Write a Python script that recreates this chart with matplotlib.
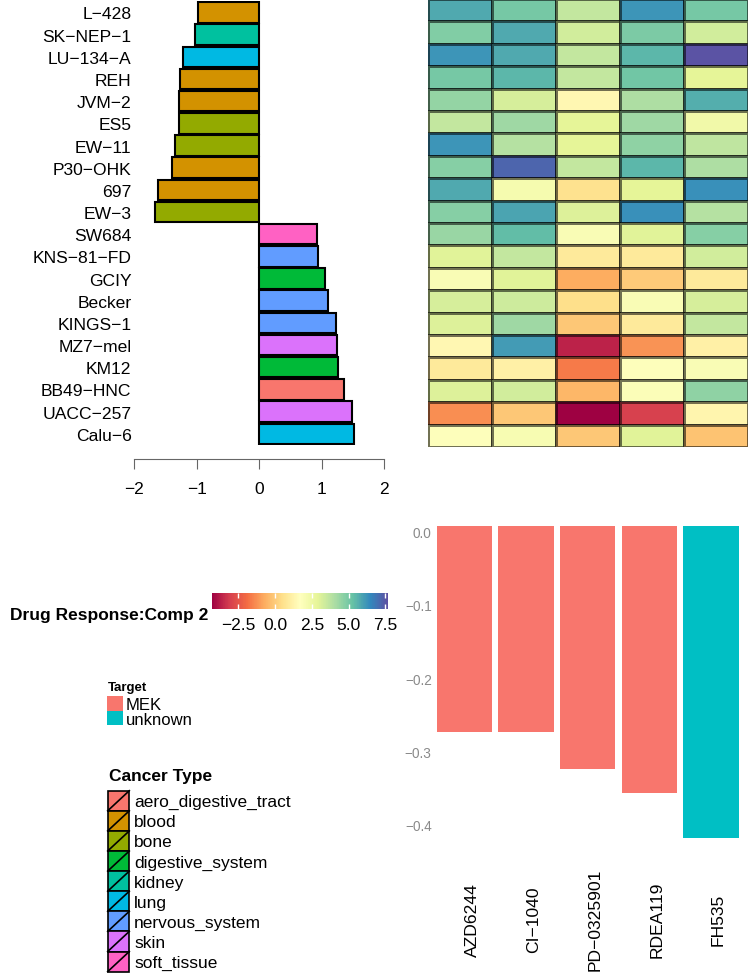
import numpy as np
import matplotlib as mpl
import matplotlib.pyplot as plt
from matplotlib.colors import Normalize
from matplotlib.patches import Rectangle
from matplotlib.lines import Line2D

plt.rcParams['font.family'] = ['Liberation Sans', 'DejaVu Sans']

# cell lines, top to bottom
cell_lines = ['L-428', 'SK-NEP-1', 'LU-134-A', 'REH', 'JVM-2', 'ES5', 'EW-11', 'P30-OHK', '697', 'EW-3',
              'SW684', 'KNS-81-FD', 'GCIY', 'Becker', 'KINGS-1', 'MZ7-mel', 'KM12', 'BB49-HNC', 'UACC-257', 'Calu-6']
cell_scores = [-0.98, -1.02, -1.22, -1.26, -1.28, -1.29, -1.35, -1.39, -1.62, -1.67,
               0.93, 0.95, 1.06, 1.11, 1.23, 1.24, 1.27, 1.36, 1.49, 1.52]
cell_types = ['blood', 'kidney', 'lung', 'blood', 'blood', 'bone', 'bone', 'blood', 'blood', 'bone',
              'soft_tissue', 'nervous_system', 'digestive_system', 'nervous_system', 'nervous_system',
              'skin', 'digestive_system', 'aero_digestive_tract', 'skin', 'lung']

cancer_types = ['aero_digestive_tract', 'blood', 'bone', 'digestive_system', 'kidney',
                'lung', 'nervous_system', 'skin', 'soft_tissue']
cancer_colors = ['#F8766D', '#D39200', '#93AA00', '#00BA38', '#00C19F',
                 '#00B9E3', '#619CFF', '#DB72FB', '#FF61C3']

# drug response heatmap, one row per cell line, one column per drug
response = [
    [5.8, 5.0, 3.6, 6.2, 5.0],
    [4.8, 5.8, 3.3, 4.9, 3.3],
    [6.2, 5.8, 3.6, 5.5, 7.6],
    [5.0, 5.5, 3.6, 5.1, 2.9],
    [4.5, 3.2, 1.4, 4.0, 5.7],
    [3.6, 4.3, 2.9, 4.3, 2.4],
    [6.2, 3.9, 2.9, 4.6, 3.7],
    [4.7, 7.2, 3.6, 5.5, 4.0],
    [5.8, 2.2, 0.6, 2.9, 6.3],
    [4.7, 5.9, 3.1, 6.3, 3.9],
    [4.4, 5.4, 2.0, 3.0, 4.7],
    [3.0, 3.6, 0.9, 0.9, 3.3],
    [2.0, 3.0, -0.7, 0.0, 0.9],
    [3.2, 3.4, 0.5, 2.0, 3.2],
    [3.1, 4.3, -0.1, 0.9, 3.6],
    [1.4, 6.1, -3.6, -1.2, 1.1],
    [0.9, 1.1, -1.65, 1.8, 2.0],
    [3.1, 3.3, -0.5, 1.9, 4.6],
    [-1.3, -0.1, -4.3, -3.0, 1.3],
    [1.8, 2.1, -0.1, 3.0, -0.2],
]
resp_min, resp_max = -4.3, 7.7
cbar_ticks = [-2.5, 0.0, 2.5, 5.0, 7.5]
cbar_labels = ['-2.5', '0.0', '2.5', '5.0', '7.5']

drugs = ['AZD6244', 'CI-1040', 'PD-0325901', 'RDEA119', 'FH535']
drug_loadings = [-0.281, -0.281, -0.332, -0.364, -0.426]
drug_targets = ['MEK', 'MEK', 'MEK', 'MEK', 'unknown']
targets = ['MEK', 'unknown']
target_colors = ['#F8766D', '#00BFC4']
load_ticks = [0.0, -0.1, -0.2, -0.3, -0.4]
load_labels = ['0.0', '-0.1', '-0.2', '-0.3', '-0.4']


def minus(labels):
    # the original device draws '-' as a proper minus sign
    return [s.replace('-', '\u2212') for s in labels]


W, H = 748, 979
fig = plt.figure(figsize=(W / 100, H / 100), dpi=100)


def box(l, t, r, b):
    return [l / W, 1 - b / H, (r - l) / W, (b - t) / H]


def fx(x):
    return x / W


def fy(y):
    return 1 - y / H


# ---- cell line bars
ax1 = fig.add_axes(box(134.3, 2.4, 384, 445.8))
pos = np.arange(len(cell_lines))
bar_cols = [cancer_colors[cancer_types.index(t)] for t in cell_types]
ax1.barh(pos, cell_scores, height=0.92, color=bar_cols, edgecolor='black', linewidth=1.5)
ax1.set_xlim(-2, 2)
ax1.set_ylim(len(cell_lines) - 0.5, -0.5)
for s in ['top', 'right', 'left']:
    ax1.spines[s].set_visible(False)
ax1.spines['bottom'].set_position(('outward', 10))
ax1.spines['bottom'].set_bounds(-2, 2)
ax1.spines['bottom'].set_color('#666666')
ax1.set_xticks([-2, -1, 0, 1, 2])
ax1.tick_params(axis='x', length=7.2, color='#666666', labelsize=12.5, pad=9)
ax1.set_yticks(pos, minus(cell_lines))
ax1.tick_params(axis='y', length=0, pad=2, labelsize=12.6)
ax1.patch.set_alpha(0)

# ---- heatmap
norm = Normalize(resp_min, resp_max)
ax2 = fig.add_axes(box(427.5, 0, 748, 448))
ax2.pcolormesh(np.array(response), cmap='Spectral', norm=norm,
               edgecolors=(0, 0, 0, 0.55), linewidth=0.8)
ax2.set_xlim(0, 5)
ax2.set_ylim(len(cell_lines), 0)
ax2.axis('off')

# ---- colourbar
cax = fig.add_axes(box(211.7, 594.3, 388.3, 610))
cb = fig.colorbar(mpl.cm.ScalarMappable(norm=norm, cmap='Spectral'), cax=cax, orientation='horizontal')
cb.set_ticks(cbar_ticks, labels=minus(cbar_labels))
cb.outline.set_visible(False)
cax.tick_params(direction='in', color='white', labelcolor='black', length=3.5, width=1,
                top=True, labelsize=12.5, pad=6)
fig.text(fx(208.3), fy(620), 'Drug Response:Comp 2', ha='right', va='baseline',
         fontsize=12.5, weight='bold')

# ---- target legend
fig.text(fx(108), fy(690.5), 'Target', fontsize=9.5, weight='bold', va='baseline')
for i, (t, c) in enumerate(zip(targets, target_colors)):
    top = 696.8 + i * 14.8
    fig.add_artist(Rectangle((fx(107.3), fy(top + 14.8)), 15.4 / W, 14.8 / H,
                             transform=fig.transFigure, facecolor=c, edgecolor='none'))
    fig.text(fx(126), fy(top + 13.3), t, fontsize=12, va='baseline')

# ---- cancer type legend
fig.text(fx(109.3), fy(781), 'Cancer Type', fontsize=12.5, weight='bold', va='baseline')
for i, (t, c) in enumerate(zip(cancer_types, cancer_colors)):
    top = 791.7 + i * 20.1
    fig.add_artist(Rectangle((fx(107.7), fy(top + 20.1)), 21.6 / W, 20.1 / H,
                             transform=fig.transFigure, facecolor=c, edgecolor='black', linewidth=1.2))
    fig.add_artist(Line2D([fx(107.7), fx(129.3)], [fy(top + 20.1), fy(top)],
                          transform=fig.transFigure, color='black', linewidth=1.2))
    fig.text(fx(134), fy(top + 15.5), t, fontsize=12.5, va='baseline')

# ---- drug loadings
ax3 = fig.add_axes(box(427.5, 511.1, 748, 854.8))
xpos = np.arange(1, len(drugs) + 1)
ax3.bar(xpos, drug_loadings, width=0.9,
        color=[target_colors[targets.index(t)] for t in drug_targets])
ax3.set_xlim(0.4, len(drugs) + 0.6)
ax3.set_ylim(-0.447, 0.0213)
for s in ax3.spines.values():
    s.set_visible(False)
ax3.set_yticks(load_ticks, minus(load_labels), va='top')
ax3.tick_params(axis='y', length=0, pad=-3, labelsize=9.8, labelcolor='#8a8a8a')
ax3.set_xticks(xpos, minus(drugs), rotation=90, ha='left', va='center')
ax3.tick_params(axis='x', length=0, pad=46.8, labelsize=12.6)
ax3.patch.set_alpha(0)

fig.savefig('out.png', dpi=100)
